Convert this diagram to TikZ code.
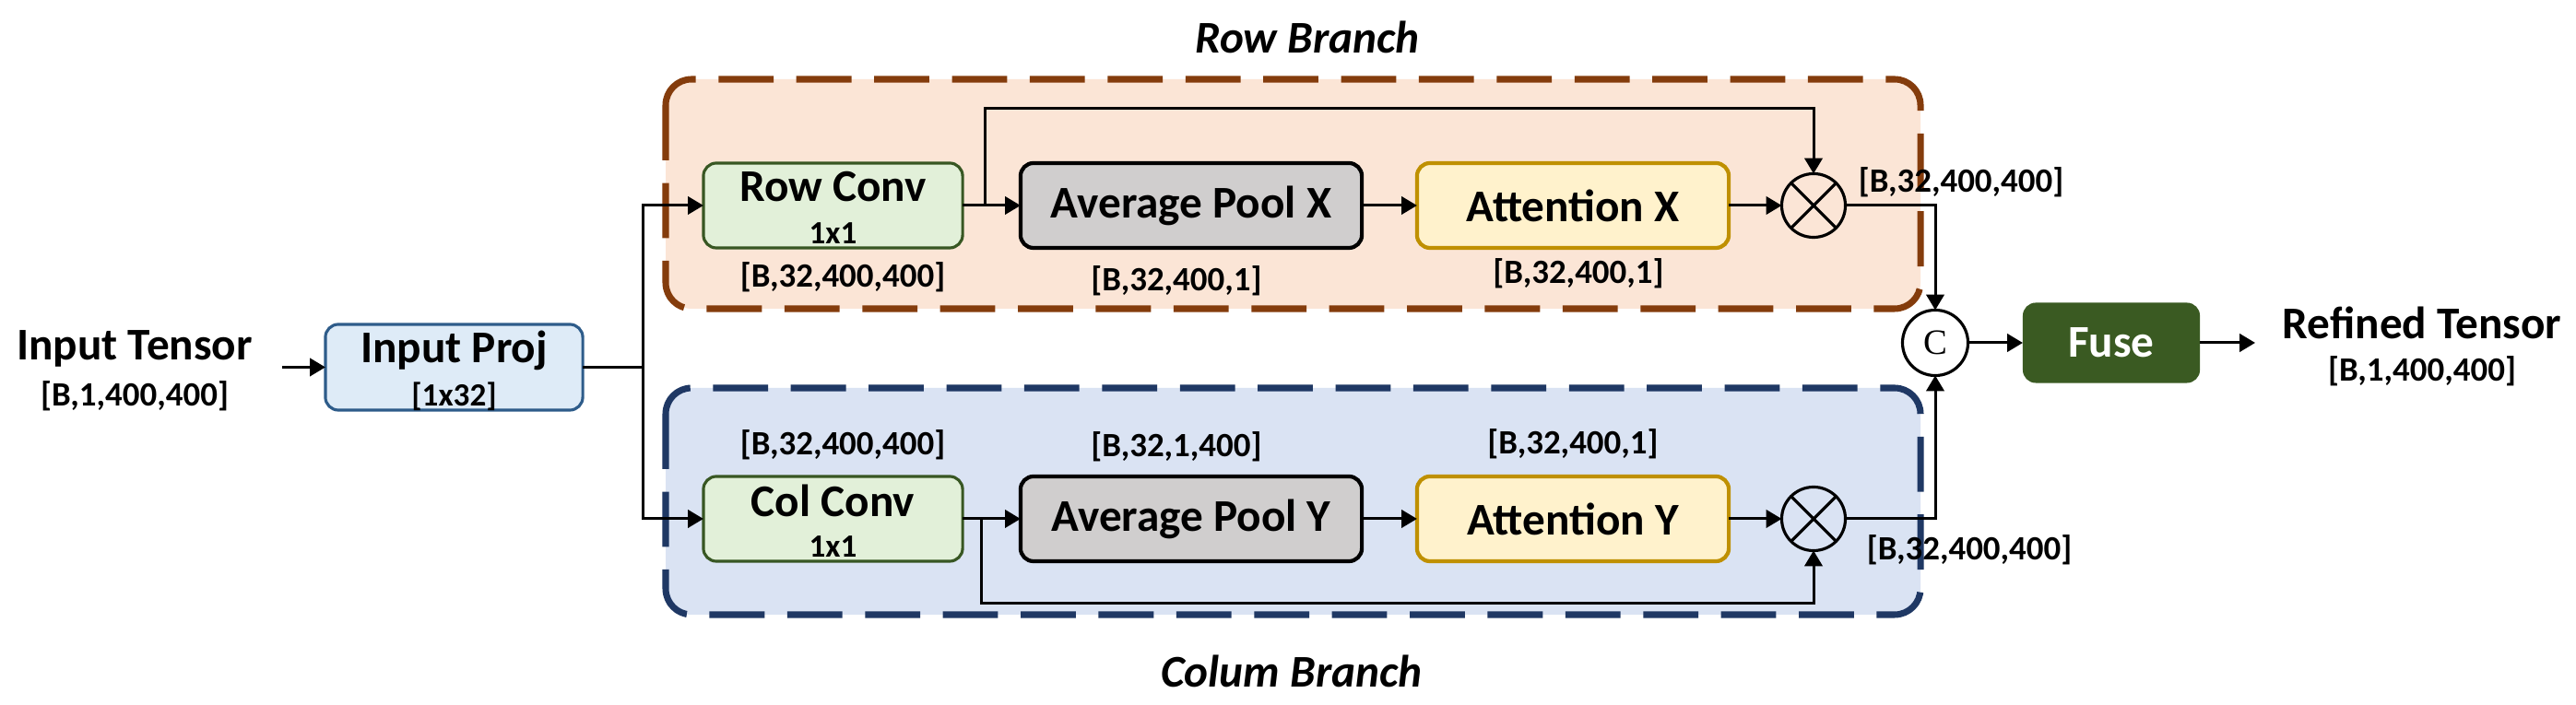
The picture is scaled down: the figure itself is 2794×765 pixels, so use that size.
\documentclass[tikz,border=0pt]{standalone}
\usepackage{fontspec}
\setmainfont{Carlito}
\newfontfamily\serifC{Liberation Serif}
\usetikzlibrary{arrows.meta}
\definecolor{orfill}{HTML}{FBE5D6}
\definecolor{orline}{HTML}{843C0C}
\definecolor{blfill}{HTML}{DAE3F3}
\definecolor{blline}{HTML}{1F3864}
\definecolor{projfill}{HTML}{DEEBF7}
\definecolor{projline}{HTML}{2E5C8A}
\definecolor{convfill}{HTML}{E2F0D9}
\definecolor{convline}{HTML}{385723}
\definecolor{poolfill}{HTML}{D0CECE}
\definecolor{attfill}{HTML}{FFF2CC}
\definecolor{attline}{HTML}{BF9000}
\definecolor{fusefill}{HTML}{3A5A22}
\tikzset{
  big/.style={font=\bfseries\fontsize{14}{16}\selectfont},
  small/.style={font=\bfseries\fontsize{10.5}{12}\selectfont},
  tiny/.style={font=\bfseries\fontsize{10}{12}\selectfont},
  txt/.style={inner sep=0pt, outer sep=0pt},
  boxbase/.style={rounded corners=4pt, inner sep=0pt, outer sep=0pt, minimum height=0.92cm},
  projbox/.style={boxbase, draw=projline, fill=projfill, line width=0.9pt, minimum width=2.79cm, minimum height=0.93cm},
  convbox/.style={boxbase, draw=convline, fill=convfill, line width=0.9pt, minimum width=2.81cm},
  poolbox/.style={boxbase, draw=black, fill=poolfill, line width=1.2pt, minimum width=3.70cm, big},
  attbox/.style={boxbase, draw=attline, fill=attfill, line width=1.2pt, minimum width=3.38cm, big},
  fusebox/.style={boxbase, fill=fusefill, minimum width=1.92cm, minimum height=0.87cm, big, text=white},
  opcircle/.style={circle, draw=black, line width=0.9pt, minimum size=0.69cm, inner sep=0pt, outer sep=0pt},
  branch/.style={rounded corners=8pt, line width=2pt, dash pattern=on 17pt off 7pt},
  conn/.style={line width=0.85pt, -{Triangle[length=4.8pt,width=5.5pt]}},
  plain/.style={line width=0.85pt}
}
\begin{document}
\begin{tikzpicture}[x=0.01cm,y=-0.01cm]
\useasboundingbox (0,0) rectangle (2794,765);
% branch backgrounds
\draw[branch, draw=orline, fill=orfill] (722,86) rectangle (2083,335);
\draw[branch, draw=blline, fill=blfill] (722,421) rectangle (2083,667);
\node[txt, big, font=\bfseries\itshape\fontsize{14}{16}\selectfont] (rowbr) at (1418,40) {Row Branch};
\node[txt, big, font=\bfseries\itshape\fontsize{14}{16}\selectfont] (colbr) at (1401,728) {Colum Branch};
% input
\node[txt, big] (intensor) at (146,378) {Input Tensor};
\node[txt, small] (inshape) at (146,430) {[B,1,400,400]};
\coordinate (instart) at (306,398.5);
\node[projbox] (inproj) at (492.5,398.5) {};
\node[txt, big] (inprojT) at (492.5,380) {Input Proj};
\node[txt, tiny] (inprojS) at (492.5,430) {[1x32]};
\coordinate (split) at (697,398.5);
% row branch
\node[convbox] (rowconv) at (903.5,223) {};
\node[txt, big] (rowconvT) at (903.5,203) {Row Conv};
\node[txt, tiny] (rowconvS) at (903.5,253) {1x1};
\node[poolbox] (poolx) at (1292,223) {Average Pool X};
\node[attbox] (attx) at (1706,223) {Attention X};
\node[opcircle] (otx) at (1967,223) {};
\draw[line width=0.9pt] (otx.north west) -- (otx.south east) (otx.north east) -- (otx.south west);
\node[txt, small] (l1) at (914,301) {[B,32,400,400]};
\node[txt, small] (l2) at (1276,305) {[B,32,400,1]};
\node[txt, small] (l3) at (1712,297) {[B,32,400,1]};
\node[txt, small] (l4) at (2127,198) {[B,32,400,400]};
% column branch
\node[convbox] (colconv) at (903.5,563) {};
\node[txt, big] (colconvT) at (903.5,543) {Col Conv};
\node[txt, tiny] (colconvS) at (903.5,593) {1x1};
\node[poolbox] (pooly) at (1292,563) {Average Pool Y};
\node[attbox] (atty) at (1706,563) {Attention Y};
\node[opcircle] (oty) at (1967,563) {};
\draw[line width=0.9pt] (oty.north west) -- (oty.south east) (oty.north east) -- (oty.south west);
\node[txt, small] (m1) at (914,483) {[B,32,400,400]};
\node[txt, small] (m2) at (1276,485) {[B,32,1,400]};
\node[txt, small] (m3) at (1706,482) {[B,32,400,1]};
\node[txt, small] (m4) at (2136,597) {[B,32,400,400]};
% fusion
\node[opcircle, fill=white, minimum size=0.71cm] (cat) at (2099,372) {\serifC\fontsize{11}{12}\selectfont C};
\node[fusebox] (fuse) at (2290,372) {Fuse};
\coordinate (outend) at (2446,372);
\node[txt, big] (refined) at (2627,350) {Refined Tensor};
\node[txt, small] (outshape) at (2627,403) {[B,1,400,400]};
% connectors
\draw[conn] (instart) -- (inproj.west);
\draw[plain] (inproj.east) -- (split);
\draw[conn] (split) |- (rowconv.west);
\draw[conn] (split) |- (colconv.west);
\coordinate (rsk) at (1068,223);
\coordinate (csk) at (1064,563);
\draw[conn] (rowconv.east) -- (poolx.west);
\draw[conn] (poolx.east) -- (attx.west);
\draw[conn] (attx.east) -- (otx.west);
\draw[conn] (rsk) -- (1068,118) -| (otx.north);
\draw[conn] (colconv.east) -- (pooly.west);
\draw[conn] (pooly.east) -- (atty.west);
\draw[conn] (atty.east) -- (oty.west);
\draw[conn] (csk) -- (1064,655) -| (oty.south);
\draw[conn] (otx.east) -| (cat.north);
\draw[conn] (oty.east) -| (cat.south);
\draw[conn] (cat.east) -- (fuse.west);
\draw[conn] (fuse.east) -- (outend);
\end{tikzpicture}
\end{document}
